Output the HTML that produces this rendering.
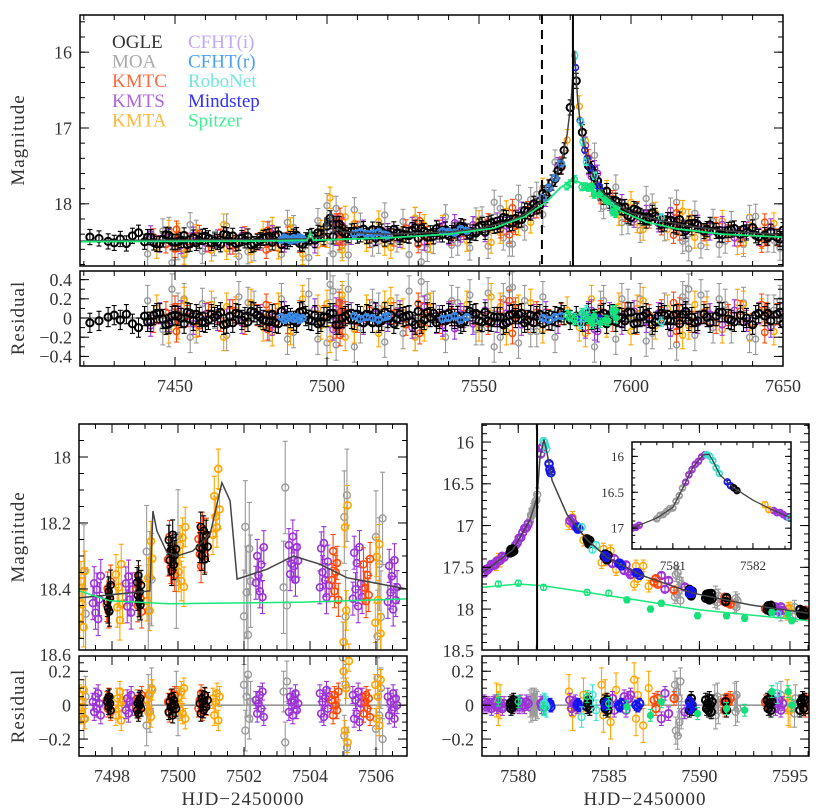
<!DOCTYPE html>
<html><head><meta charset="utf-8">
<style>
html,body{margin:0;padding:0;background:#fff;}
svg{display:block;font-family:"Liberation Serif",serif;}
</style></head>
<body>
<svg id="fig" width="821" height="812" viewBox="0 0 821 812" xmlns="http://www.w3.org/2000/svg">
<defs>
<clipPath id="cA"><rect x="80" y="15" width="703" height="251"/></clipPath>
<clipPath id="cAr"><rect x="80" y="271" width="703" height="95"/></clipPath>
<clipPath id="cB"><rect x="79" y="424" width="328" height="226"/></clipPath>
<clipPath id="cBr"><rect x="79" y="656" width="328" height="100"/></clipPath>
<clipPath id="cC"><rect x="482" y="424" width="327" height="226"/></clipPath>
<clipPath id="cCr"><rect x="482" y="656" width="327" height="100"/></clipPath>
<clipPath id="cI"><rect x="632" y="442" width="159" height="107"/></clipPath>
</defs>
</svg>
<script>
// ---------- DATA ----------
const modelT = [7418,7440,7480,7494,7499.1,7499.3,7499.6,7500.3,7501.3,7501.7,7502,7503.5,7505,7520,7540,7550,7560,7566,7570,7574,7577,7579,7580.3,7580.9,7581.4,7581.9,7582.5,7583.5,7585,7587.5,7590,7595,7600,7610,7620,7635,7655];
const modelM = [18.49,18.48,18.47,18.46,18.43,18.18,18.29,18.28,18.08,18.2,18.38,18.32,18.37,18.40,18.37,18.33,18.23,18.12,17.98,17.75,17.45,17.08,16.65,16.3,15.98,16.3,16.65,16.98,17.33,17.62,17.82,18.0,18.12,18.22,18.3,18.37,18.42];
const spzT = [7418,7480,7493.5,7494.5,7495.5,7520,7540,7555,7565,7572,7577,7581,7584,7588,7592,7597,7605,7615,7630,7655];
const spzM = [18.5,18.49,18.48,18.38,18.48,18.45,18.4,18.32,18.17,17.98,17.78,17.69,17.73,17.86,17.98,18.1,18.24,18.33,18.4,18.45];
const lzT = [7497.0,7499.15,7499.24,7499.36,7499.67,7499.97,7500.45,7500.97,7501.33,7501.58,7501.79,7502.7,7503.5,7504.3,7505.12,7506.94];
const lzM = [18.427,18.406,18.164,18.224,18.29,18.30,18.285,18.235,18.078,18.133,18.37,18.34,18.30,18.325,18.366,18.40];
const lzGT = [7497.0,7497.94,7499.7,7503.7,7506.94];
const lzGM = [18.406,18.436,18.445,18.44,18.43];
const rzT = [7578.0,7579.71,7580.65,7581.04,7581.2,7581.42,7581.59,7581.87,7582.7,7583.8,7584.9,7586.73,7589.66,7592.8,7596.05];
const rzM = [17.57,17.29,16.93,16.66,16.18,15.97,16.13,16.46,16.87,17.17,17.38,17.59,17.81,17.95,18.05];
const rzGT = [7578.0,7580.0,7581.4,7583.8,7586.5,7590.0,7596.05];
const rzGM = [17.74,17.70,17.72,17.80,17.89,18.01,18.14];
const insT = [7580.49,7580.80,7581.0,7581.13,7581.25,7581.38,7581.45,7581.5,7581.59,7581.75,7582.0,7582.25,7582.48];
const insM = [17.0,16.86,16.71,16.43,16.15,15.98,15.97,16.06,16.26,16.43,16.61,16.75,16.86];

// Top panel data
const ogleT = [7422,7425,7428,7430,7432,7434,7436,7438,7440,7442,7444,7446,7448,7450,7452,7454,7456,7458,7460,7462,7464,7466,7468,7470,7472,7474,7476,7478,7480,7482,7484,7486,7488,7490,7492,7494,7496,7498,7500,7502,7504,7506,7508,7510,7512,7514,7516,7518,7520,7522,7524,7526,7528,7530,7532,7534,7536,7538,7540,7542,7544,7546,7548,7550,7552,7554,7556,7558,7560,7562,7564,7566,7568,7570,7572,7574,7576,7578,7580,7582,7584,7586,7588,7590,7592,7594,7596,7598,7600,7602,7604,7606,7608,7610,7612,7614,7616,7618,7620,7622,7624,7626,7628,7630,7632,7634,7636,7638,7640,7642,7644,7646,7648,7650,7652,7654,7441,7445,7449,7453,7457,7461,7465,7469,7473,7477,7481,7485,7489,7493,7497,7501,7505,7509,7513,7517,7521,7525,7529,7533,7537,7541,7545,7549,7553,7557,7561,7565,7569,7573,7577,7589,7593,7597,7601,7605,7609,7613,7617,7621,7625,7629,7633,7637,7641,7645,7649,7653,7443,7447,7451,7455,7459,7463,7467,7471,7475,7479,7483,7487,7491,7495,7499,7503,7507,7511,7515,7519,7523,7527,7531,7535,7539,7543,7547,7551,7555,7559,7563,7567,7571,7575,7587,7591,7595,7599,7603,7607,7611,7615,7619,7623,7627,7631,7635,7639,7643,7647,7651];
const ogleR = [-0.05,-0.03,0.01,0.03,-0.02,0.04,-0.06,-0.10,0.02,-0.04,0.05,-0.01,-0.06,0.03,0.00,0.06,-0.03,0.01,-0.05,0.04,0.03,-0.07,0.02,0.05,-0.02,-0.04,0.06,0.01,-0.03,0.04,-0.06,0.02,0.00,-0.05,0.07,-0.02,0.03,-0.04,0.01,0.05,-0.07,0.02,-0.01,0.04,-0.05,0.03,0.06,-0.03,0.00,-0.06,0.04,0.02,-0.04,0.07,-0.02,0.01,-0.05,0.03,0.05,-0.01,-0.06,0.02,0.04,-0.03,0.06,-0.04,0.01,-0.07,0.03,0.00,0.05,-0.02,-0.05,0.04,0.02,-0.03,0.01,0.03,-0.02,0.02,-0.04,0.05,-0.01,0.03,-0.06,0.04,0.01,-0.03,0.06,-0.05,0.02,0.00,-0.04,0.05,-0.02,0.03,-0.06,0.07,0.01,-0.03,0.04,-0.05,0.02,0.06,-0.01,-0.04,0.03,0.00,-0.07,0.05,0.02,-0.03,0.04,-0.06,0.01,0.03,-0.04,0.05,0.02,-0.06,0.04,-0.02,0.06,-0.05,0.01,0.03,-0.04,0.07,-0.03,0.02,-0.06,0.05,0.00,-0.02,0.04,-0.05,0.03,0.01,-0.07,0.06,-0.01,0.02,-0.04,0.05,-0.03,0.01,0.04,-0.05,0.02,-0.02,0.06,-0.04,0.03,0.00,-0.06,0.05,0.02,-0.03,0.04,-0.05,0.01,0.06,-0.02,-0.04,0.03,0.05,0.06,-0.05,0.03,-0.07,0.02,0.05,-0.04,0.01,-0.06,0.04,0.07,-0.02,-0.05,0.03,0.06,-0.03,0.01,-0.07,0.04,0.02,-0.05,0.06,-0.01,0.03,-0.06,0.05,-0.03,0.02,0.07,-0.04,0.01,-0.05,0.04,0.03,-0.06,0.02,-0.02,0.05,-0.04,0.06,0.01,-0.07,0.03,0.04,-0.03];
const moaT = [7441,7446,7449,7451,7455,7459,7463,7467,7471,7476,7481,7485,7489,7494,7497,7501,7503,7505,7507,7511,7515,7519,7523,7527,7529,7531,7535,7539,7543,7547,7551,7555,7558,7561,7563,7565,7567,7571,7575,7588,7591,7595,7599,7603,7607,7611,7615,7617,7619,7621,7625,7629,7633,7637,7641,7645,7649,7448,7453,7457,7474,7487,7492,7500,7502,7504,7509,7517,7525,7533,7541,7549,7553,7557,7560,7569,7590,7597,7605,7613,7618,7623,7627,7631,7639,7647,7652];
const moaR = [0.18,-0.12,0.30,0.10,-0.20,0.15,0.05,-0.18,0.22,0.12,-0.08,0.20,-0.15,0.25,-0.22,0.35,-0.28,0.18,0.30,-0.10,0.14,-0.25,0.08,0.28,-0.18,0.38,0.12,-0.20,0.16,0.24,-0.12,-0.30,0.20,0.32,-0.26,0.18,-0.14,0.22,-0.20,-0.30,0.18,-0.22,0.14,0.20,-0.16,0.10,-0.28,0.22,0.30,-0.18,0.12,0.20,-0.10,0.16,-0.22,0.08,0.18,-0.14,0.20,-0.10,0.16,-0.22,0.12,-0.26,0.28,0.14,-0.30,0.10,-0.16,0.22,0.18,-0.12,0.26,-0.20,0.30,-0.14,0.12,0.20,-0.24,-0.16,0.18,0.24,-0.10,0.14,-0.20,0.08,-0.12];
const kmtcT = [7443,7447,7450,7450.5,7451,7454,7458,7461,7465,7469,7473,7477,7480,7480.5,7481,7483,7487,7491,7499,7503,7504,7504.3,7504.6,7505,7506,7510,7514,7518,7522,7526,7530,7530.5,7531,7533,7537,7541,7545,7549,7553,7557,7560,7561,7561.5,7562,7566,7569,7573,7577,7586,7590,7594,7598,7602,7606,7610,7614,7615,7615.5,7616,7620,7624,7628,7632,7636,7640,7643,7644,7644.5,7648];
const kmtcR = [-0.04,0.06,0.12,-0.14,0.04,0.02,-0.08,0.05,-0.03,0.08,-0.06,0.03,0.14,-0.12,0.05,0.04,-0.05,0.07,0.02,-0.10,0.16,-0.18,0.08,-0.06,0.06,-0.04,0.08,-0.02,0.05,-0.07,0.15,-0.16,0.05,0.03,-0.05,0.07,-0.03,0.04,-0.06,0.08,0.18,-0.16,0.06,0.10,-0.04,0.06,-0.02,0.04,-0.05,0.07,-0.03,0.05,-0.06,0.03,0.08,0.16,-0.14,0.04,0.10,-0.04,0.06,-0.05,0.03,0.07,-0.06,0.14,-0.15,0.05,0.04];
const kmtsT = [7442,7445,7448,7452,7456,7460,7464,7468,7472,7478,7482,7486,7490,7496,7502,7503,7505,7508,7512,7516,7520,7524,7528,7532,7536,7538,7540,7542,7544,7548,7552,7556,7559,7564,7568,7572,7576,7585,7587,7589,7593,7597,7601,7605,7609,7613,7618,7622,7626,7630,7634,7638,7642,7646,7650,7537,7539,7541,7543,7545,7503.5,7504.5,7588,7586];
const kmtsR = [-0.08,0.05,-0.03,0.07,-0.06,0.04,-0.02,0.08,-0.05,0.03,-0.07,0.06,-0.04,0.09,-0.12,0.10,-0.08,0.05,-0.06,0.04,-0.03,0.07,-0.10,0.12,-0.05,-0.08,0.06,-0.11,0.04,-0.06,0.08,-0.04,0.05,-0.07,0.03,0.06,-0.05,-0.10,0.08,-0.14,0.05,-0.06,0.07,-0.04,0.05,-0.08,0.06,-0.05,0.04,-0.07,0.08,-0.03,0.05,-0.09,0.04,0.02,-0.03,0.03,-0.02,0.01,-0.06,0.07,-0.12,0.06];
const kmtaT = [7444,7448,7453,7457,7462,7466,7470,7475,7479,7484,7488,7492,7498,7500,7501,7505,7509,7513,7517,7521,7525,7529,7534,7538,7546,7550,7554,7559,7563,7567,7571,7579,7583,7587,7592,7596,7600,7604,7608,7612,7617,7621,7625,7630,7635,7639,7643,7647,7451,7467,7482,7497,7506,7519,7532,7557,7585,7602,7619,7637];
const kmtaR = [0.10,-0.12,0.18,-0.06,0.14,-0.20,0.08,0.16,-0.10,0.12,-0.14,0.20,-0.08,0.15,-0.22,0.24,-0.12,0.10,-0.16,0.18,0.06,-0.20,0.12,-0.08,0.14,-0.10,0.22,-0.14,0.10,0.16,-0.12,0.08,-0.10,0.20,-0.06,0.12,-0.14,0.18,-0.08,0.10,-0.18,0.14,0.08,-0.12,0.16,-0.10,0.06,-0.14,-0.08,0.12,-0.15,0.10,-0.20,0.14,-0.10,0.12,-0.16,0.10,-0.08,0.14];
const cfhtrT = [7485,7486,7487,7488,7489,7490,7491,7492,7509,7511,7513,7515,7517,7519,7520,7538,7540,7542,7544,7546,7571,7573,7575,7577];
const cfhtrR = [0.01,-0.02,0.00,0.02,-0.01,0.01,-0.02,0.00,0.02,-0.01,0.01,0.00,-0.02,0.01,0.02,-0.01,0.00,0.02,-0.02,0.01,0.00,-0.02,0.01,0.02];
const spitzT = [7578.9,7580.0,7581.4,7583.8,7585.0,7586.0,7587.3,7587.9,7589.9,7591.5,7592.5,7594.0,7594.9,7595.1];
const spitzM = [17.70,17.69,17.74,17.80,17.81,17.89,18.00,17.93,18.08,18.08,18.11,18.04,18.06,18.14];
const spitzFilled = [0,0,0,0,0,1,1,1,1,1,1,1,1,1];
const spitzR = [0.03,0.02,-0.02,0.05,0.01,-0.01,-0.06,0.02,-0.05,-0.02,-0.03,0.08,0.08,0.00];
const mindT = [7581.75,7583.3,7584.8,7585.6,7586.6,7589.5,7589.6];
const mindR = [0.00,-0.01,0.01,0.00,0.01,-0.01,0.00];
const roboT = [7581.5,7583.5,7584.2,7585.3,7588.0,7594.2,7610.0];
const roboR = [0.00,-0.06,0.04,0.08,-0.03,0.06,-0.04];

// Zoom-left data
const lOgleT = [7497.86,7497.88,7497.9,7497.92,7497.94,7497.96,7498.76,7498.78,7498.8,7498.82,7498.84,7498.86,7498.88,7499.72,7499.75,7499.78,7499.81,7499.84,7499.87,7499.9,7499.94,7500.66,7500.69,7500.72,7500.75,7500.78,7500.81,7500.85,7500.9];
const lOgleR = [0.02,0.04,-0.01,0.05,0.01,-0.03,-0.03,0.01,-0.05,0.03,0.00,0.04,-0.02,-0.04,0.02,-0.01,0.05,-0.06,0.03,0.00,-0.02,0.01,-0.05,0.04,0.02,-0.03,0.06,-0.01,0.03];
const lKmtcT = [7497.84,7497.87,7497.9,7497.93,7497.96,7498.74,7498.78,7498.82,7498.86,7498.9,7499.7,7499.74,7499.78,7499.82,7499.86,7499.9,7500.62,7500.66,7500.7,7500.74,7500.78,7500.82,7500.86,7504.66,7504.7,7504.74,7504.78,7504.82,7504.86,7505.62,7505.66,7505.7,7505.74,7505.78,7505.82];
const lKmtcR = [0.03,-0.02,0.05,0.01,-0.04,-0.01,0.04,-0.03,0.02,0.06,0.02,-0.05,0.04,0.00,-0.02,0.06,-0.02,0.03,0.07,-0.04,0.01,0.05,-0.01,0.03,-0.06,0.06,0.00,-0.03,0.08,-0.05,0.02,0.06,-0.02,0.04,-0.07];
const lKmtsT = [7497.42,7497.46,7497.5,7497.54,7497.58,7497.62,7497.66,7498.42,7498.46,7498.5,7498.54,7498.58,7498.62,7502.36,7502.4,7502.44,7502.48,7502.52,7502.56,7502.6,7503.36,7503.4,7503.44,7503.48,7503.52,7503.56,7503.6,7503.64,7504.3,7504.34,7504.38,7504.42,7504.46,7504.5,7504.54,7504.58,7505.3,7505.34,7505.38,7505.42,7505.46,7505.5,7505.54,7505.58,7506.36,7506.4,7506.44,7506.48,7506.52,7506.56,7506.6,7506.64];
const lKmtsR = [0.02,-0.04,0.05,-0.02,0.07,0.01,-0.06,-0.03,0.04,-0.05,0.02,0.06,-0.01,0.03,-0.05,0.01,0.06,-0.02,0.08,-0.07,-0.04,0.05,0.02,-0.06,0.03,0.07,-0.03,0.01,0.07,-0.05,0.02,-0.07,0.04,0.09,-0.02,0.05,0.06,-0.08,0.03,-0.05,0.08,-0.10,0.01,0.05,0.05,-0.06,0.02,-0.03,0.07,-0.08,0.04,0.00];
const lKmtaT = [7497.02,7497.06,7497.1,7497.14,7497.18,7498.12,7498.16,7498.2,7498.24,7498.28,7498.32,7499.06,7499.1,7499.14,7499.18,7499.22,7500.02,7500.06,7500.1,7500.14,7500.18,7500.22,7501.06,7501.1,7501.14,7501.18,7501.22,7501.26,7505.02,7505.06,7505.1,7505.14,7505.18,7505.98,7506.02,7506.06,7506.1,7506.14];
const lKmtaR = [0.06,-0.05,0.02,0.09,-0.08,-0.06,0.04,-0.02,0.08,-0.09,0.03,0.03,-0.04,0.06,-0.07,0.09,0.05,-0.03,0.08,-0.05,0.10,-0.08,0.04,-0.06,0.02,0.07,-0.09,0.05,0.20,-0.15,0.10,-0.22,0.26,0.12,-0.08,0.05,-0.12,0.15];
const lMoaT = [7497.15,7497.2,7499.05,7499.1,7499.15,7499.2,7499.95,7500.0,7502.0,7502.04,7502.08,7502.12,7502.16,7502.2,7503.2,7503.25,7503.3,7505.0,7505.04,7505.08,7505.12,7506.0,7506.05,7506.1,7506.15,7506.2];
const lMoaR = [-0.08,0.05,-0.12,0.06,-0.04,0.10,0.08,-0.06,0.12,-0.15,0.05,0.18,-0.08,0.02,0.08,-0.22,0.14,0.28,-0.18,0.12,-0.25,-0.14,0.16,-0.06,0.10,-0.20];

// Zoom-right data
const rOgleT = [7579.55,7579.6,7579.65,7579.7,7579.75,7583.8,7583.85,7583.9,7583.95,7584.75,7584.8,7584.85,7584.9,7584.95,7589.45,7589.5,7589.55,7589.6,7590.35,7590.4,7590.45,7590.5,7590.55,7590.6,7590.65,7590.7,7591.45,7591.5,7593.75,7593.8,7593.85,7593.9,7593.95,7594.0,7595.55,7595.6,7595.65,7595.7,7595.75,7595.8];
const rOgleR = [0.01,-0.02,0.02,-0.01,0.03,-0.01,0.01,0.03,-0.02,0.02,-0.02,0.01,0.03,-0.03,-0.03,0.02,0.04,-0.02,0.03,-0.02,0.01,-0.03,0.04,0.00,-0.04,0.02,0.02,-0.03,0.03,-0.02,0.01,0.04,-0.03,0.02,-0.03,0.02,0.01,0.04,-0.02,0.03];
const rKmtsT = [7578.02,7578.12,7578.22,7578.32,7578.42,7578.52,7578.62,7578.72,7578.82,7578.92,7579.02,7579.12,7579.22,7579.85,7579.95,7580.05,7580.15,7580.25,7580.35,7580.45,7580.55,7581.25,7581.3,7581.35,7582.85,7582.95,7583.05,7583.15,7583.25,7585.2,7585.3,7585.85,7585.95,7586.1,7586.2,7587.9,7588.1,7588.3,7589.2,7594.1,7594.2,7594.3,7594.4,7594.5,7594.6];
const rKmtsR = [0.00,0.02,-0.01,0.01,0.00,-0.02,0.01,0.02,-0.01,0.00,0.01,-0.02,0.01,0.00,0.01,-0.01,0.02,0.00,-0.01,0.02,0.01,0.01,-0.01,0.02,0.03,-0.02,0.01,0.02,-0.01,0.04,-0.03,0.05,-0.03,0.04,0.06,-0.08,0.07,-0.05,-0.04,0.03,-0.02,0.01,0.03,-0.03,0.01];
const rKmtaT = [7578.8,7578.9,7579.0,7582.8,7583.0,7583.6,7584.6,7584.7,7584.8,7585.1,7585.4,7586.4,7586.5,7586.6,7586.9,7587.2,7594.85,7594.9,7595.0];
const rKmtaR = [0.03,-0.02,0.02,0.08,-0.05,0.06,0.12,-0.06,0.05,-0.10,0.09,0.15,-0.08,0.06,-0.12,0.10,0.05,-0.02,-0.03];
const rKmtcT = [7587.5,7587.6,7587.7,7588.6,7591.35,7591.4,7591.5,7591.6,7591.7,7593.65,7593.7,7595.85,7595.9,7596.0];
const rKmtcR = [0.03,-0.02,0.04,0.04,0.02,-0.03,0.03,0.02,0.04,0.02,0.01,-0.03,0.03,0.02];
const rMoaT = [7580.65,7580.7,7580.75,7580.8,7580.85,7580.9,7580.95,7581.0,7581.05,7588.65,7588.7,7588.75,7588.8,7588.85,7588.9,7588.95,7589.0,7590.85,7590.9,7591.0,7591.05,7591.95,7592.0,7592.05,7592.1,7594.5,7595.25,7595.3];
const rMoaR = [0.01,-0.02,0.02,-0.01,0.01,0.02,-0.01,0.01,0.00,0.12,-0.15,0.08,-0.18,0.04,-0.10,0.14,-0.06,0.04,-0.06,0.05,-0.03,0.05,-0.04,0.06,-0.02,0.06,-0.05,0.04];
const rMindT = [7581.7,7581.75,7581.8,7583.25,7583.3,7583.35,7584.8,7584.85,7585.55,7585.6,7585.7,7586.5,7586.6,7586.7,7589.45,7589.5,7589.6];
const rMindR = [0.00,0.01,-0.01,0.00,0.01,-0.01,0.00,0.01,0.00,-0.01,0.01,0.00,-0.01,0.01,0.02,-0.02,0.00];
const rRoboT = [7581.4,7581.45,7581.5,7581.55,7583.5,7584.1,7584.3,7594.3];
const rRoboR = [0.00,0.01,0.00,-0.01,-0.07,0.06,-0.03,0.07];

// Inset data
const iMoaT = [7580.8,7580.84,7580.88,7580.92,7580.96,7581.0,7581.04,7581.08,7581.12];
const iMoaR = [0.01,-0.01,0.01,0.00,-0.01,0.01,0.00,0.01,-0.01];
const iKmtsT = [7580.5,7580.54,7580.58,7581.16,7581.2,7581.24,7581.28,7581.32,7581.36,7581.4,7582.26,7582.3,7582.34,7582.38,7582.42];
const iKmtsR = [0.00,0.01,0.00,0.00,-0.01,0.01,0.00,0.01,0.00,0.00,0.00,0.01,-0.01,0.00,0.01];
const iRoboT = [7581.42,7581.46,7581.5,7581.54,7581.58,7582.46];
const iRoboR = [0.00,0.01,0.00,0.01,0.00,0.01];
const iMindT = [7581.68,7581.72];
const iMindR = [0.00,0.01];
const iOgleT = [7581.76,7581.8];
const iOgleR = [0.00,0.01];
const iKmtaT = [7582.15,7582.2];
const iKmtaR = [-0.02,0.02];

// Tick labels
const topXTicks = [7450,7500,7550,7600,7650];
const topYTicks = [16,17,18];
const resTopTicks = [0.4,0.2,0,-0.2,-0.4];
const lXTicks = [7498,7500,7502,7504,7506];
const lYTicks = [18,18.2,18.4,18.6];
const rXTicks = [7580,7585,7590,7595];
const rYTicks = [16,16.5,17,17.5,18,18.5];
const resBotTicks = [0.2,0,-0.2];
const insXTicks = [7581,7582];
const insYTicks = [16,16.5,17];
const legendNames = ["OGLE","MOA","KMTC","KMTS","KMTA","CFHT(i)","CFHT(r)","RoboNet","Mindstep","Spitzer"];

// ---------- RENDERING ----------
const NS = "http://www.w3.org/2000/svg";
const svg = document.getElementById('fig');
const COL = {ogle:"#000000", moa:"#9a9a9a", kmtc:"#ff4a0a", kmts:"#9b33d6", kmta:"#ffa500", cfhti:"#b9a0f2", cfhtr:"#3a8ae8", robo:"#3ee0d0", mind:"#1414f0", spitz:"#14e07a"};
const LEGCOL = ["#333333","#aaaaaa","#ff6a40","#b066dd","#ffb740","#c0a8f5","#4aa0ff","#70e8dc","#3030ff","#40ee90"];

function mk(tag, parent, attrs){
  const el = document.createElementNS(NS, tag);
  for (const k in attrs) el.setAttribute(k, attrs[k]);
  parent.appendChild(el);
  return el;
}
function panel(x0,x1,y0,y1,t0,t1,v0,v1){
  return {x0,x1,y0,y1,X:t=>x0+(t-t0)/(t1-t0)*(x1-x0),Y:v=>y0+(v-v0)/(v1-v0)*(y1-y0),t0,t1,v0,v1};
}
function interp(T,M,t){
  if (t<=T[0]) return M[0];
  for (let i=1;i<T.length;i++){ if (t<=T[i]) { const f=(t-T[i-1])/(T[i]-T[i-1]); return M[i-1]+f*(M[i]-M[i-1]); } }
  return M[M.length-1];
}
const PA = panel(80,783,15,266,7418.75,7650,15.51,18.82);
const PAr = panel(80,783,271,366,7418.75,7650,0.49,-0.5);
const PB = panel(79,407,424,650,7497,7506.94,17.90,18.585);
const PBr = panel(79,407,656,756,7497,7506.94,0.29,-0.30);
const PC = panel(482,809,424,650,7578,7596.05,15.784,18.49);
const PCr = panel(482,809,656,756,7578,7596.05,0.29,-0.30);
const PI = panel(632,791,442,549,7580.49,7582.475,15.8,17.29);

function group(name, clip){
  const g = mk('g', svg, {});
  
  
  if (clip) g.setAttribute('clip-path', 'url(#'+clip+')');
  return g;
}
function line(g,P,T,M,col,w,name){
  let d='';
  T.forEach((t,i)=>{ d += (i?'L':'M')+P.X(t).toFixed(1)+' '+P.Y(M[i]).toFixed(1); });
  const p = mk('path', g, {d:d, fill:'none', stroke:col, 'stroke-width':w});
  
  
}
function pts(g,P,T,R,base,err,col,r,name,filledArr,sw){
  T.forEach((t,i)=>{
    const v = base ? interp(base[0],base[1],t)+R[i] : R[i];
    const x = P.X(t), y = P.Y(v);
    const ya = P.Y(v-err), yb = P.Y(v+err);
    const pg = mk('g', g, {stroke:col, 'stroke-width':1.1, fill:'none'});
    
    
    mk('line', pg, {x1:x, x2:x, y1:ya, y2:yb});
    mk('line', pg, {x1:x-2.5, x2:x+2.5, y1:ya, y2:ya});
    mk('line', pg, {x1:x-2.5, x2:x+2.5, y1:yb, y2:yb});
    const filled = filledArr ? filledArr[i] : 0;
    mk('circle', pg, {cx:x, cy:y, r:r, fill: filled ? col : 'none', 'stroke-width':sw||1.4});
  });
}
function vline(g,P,t,dash,name){
  const l = mk('line', g, {x1:P.X(t), x2:P.X(t), y1:P.y0, y2:P.y1, stroke:'#000', 'stroke-width':2});
  if (dash) l.setAttribute('stroke-dasharray', '9,6');
  
  
}
function hzero(g,P){
  const l = mk('line', g, {x1:P.x0, x2:P.x1, y1:P.Y(0), y2:P.Y(0), stroke:'#777', 'stroke-width':1.2});
  
  
}
function frame(P, name, xMaj, xMin, yMaj, yMin, xLab, yLab, fs, showX, tl){
  const g = group(name, null);
  mk('rect', g, {x:P.x0, y:P.y0, width:P.x1-P.x0, height:P.y1-P.y0, fill:'none', stroke:'#000', 'stroke-width':1.5});
  const L = tl||9, l = (tl||9)*0.55;
  const ticks = (step, len, isX)=>{
    const lo = isX ? Math.min(P.t0,P.t1) : Math.min(P.v0,P.v1);
    const hi = isX ? Math.max(P.t0,P.t1) : Math.max(P.v0,P.v1);
    for (let v=Math.ceil(lo/step-1e-6)*step; v<=hi+1e-9; v+=step){
      if (isX){ const x=P.X(v); mk('line',g,{x1:x,x2:x,y1:P.y1,y2:P.y1-len,stroke:'#000','stroke-width':1}); mk('line',g,{x1:x,x2:x,y1:P.y0,y2:P.y0+len,stroke:'#000','stroke-width':1}); }
      else { const y=P.Y(v); mk('line',g,{x1:P.x0,x2:P.x0+len,y1:y,y2:y,stroke:'#000','stroke-width':1}); mk('line',g,{x1:P.x1,x2:P.x1-len,y1:y,y2:y,stroke:'#000','stroke-width':1}); }
    }
  };
  ticks(xMin,l,true); ticks(xMaj,L,true); ticks(yMin,l,false); ticks(yMaj,L,false);
  if (showX) xLab.forEach(v=>{
    const t = mk('text', g, {x:Math.min(P.X(v), P.x1+2), y:P.y1+fs+8, 'text-anchor':'middle', 'font-size':fs, fill:'#333'});
    t.textContent = String(v);
    
    
  });
  yLab.forEach(v=>{
    const t = mk('text', g, {x:P.x0-8, y:P.Y(v)+fs*0.35, 'text-anchor':'end', 'font-size':fs, fill:'#333'});
    t.textContent = (v<0 ? '\u2212'+String(-v) : String(v));
    
    
  });
}
function label(txt,x,y,rot,name,fs){
  const t = mk('text', svg, {x:x, y:y, 'text-anchor':'middle', 'font-size':fs||19, fill:'#333', 'letter-spacing':'1'});
  if (rot) t.setAttribute('transform', 'rotate(-90 '+x+' '+y+')');
  t.textContent = txt;
  
  
}

// ---- Top magnitude panel
const gA = group('top-magnitude-plot', 'cA');
const MOD = [modelT, modelM], SPZ = [spzT, spzM];
pts(gA,PA,moaT,moaR,MOD,0.16,COL.moa,3,'moa-point');
pts(gA,PA,kmtaT,kmtaR,MOD,0.14,COL.kmta,3,'kmta-point');
pts(gA,PA,kmtsT,kmtsR,MOD,0.11,COL.kmts,3.2,'kmts-point');
pts(gA,PA,kmtcT,kmtcR,MOD,0.11,COL.kmtc,3.2,'kmtc-point');
pts(gA,PA,ogleT,ogleR,MOD,0.1,COL.ogle,3.6,'ogle-point',null,2);
pts(gA,PA,cfhtrT,cfhtrR,MOD,0.02,COL.cfhtr,3.2,'cfht-r-point',null,2);
pts(gA,PA,mindT,mindR,MOD,0.03,COL.mind,3,'mindstep-point');
pts(gA,PA,roboT,roboR,MOD,0.05,COL.robo,3,'robonet-point');
pts(gA,PA,spitzT,spitzR,SPZ,0.05,COL.spitz,2.8,'spitzer-point',spitzFilled);
line(gA,PA,modelT,modelM,'#444',1.5,'ground-model-curve');
line(gA,PA,spzT,spzM,'#18e87a',1.8,'spitzer-model-curve');
vline(gA,PA,7570.7,true,'dashed-time-marker');
vline(gA,PA,7580.9,false,'peak-time-marker');
frame(PA,'top-magnitude-axes',50,10,1,0.2,topXTicks,topYTicks,18,false);

// ---- Top residual panel
const gAr = group('top-residual-plot', 'cAr');
hzero(gAr,PAr);
pts(gAr,PAr,moaT,moaR,null,0.16,COL.moa,3,'moa-residual');
pts(gAr,PAr,kmtaT,kmtaR,null,0.14,COL.kmta,3,'kmta-residual');
pts(gAr,PAr,kmtsT,kmtsR,null,0.11,COL.kmts,3.2,'kmts-residual');
pts(gAr,PAr,kmtcT,kmtcR,null,0.11,COL.kmtc,3.2,'kmtc-residual');
pts(gAr,PAr,ogleT,ogleR,null,0.1,COL.ogle,3.6,'ogle-residual',null,2);
pts(gAr,PAr,cfhtrT,cfhtrR,null,0.02,COL.cfhtr,3.2,'cfht-r-residual',null,2);
pts(gAr,PAr,mindT,mindR,null,0.03,COL.mind,3,'mindstep-residual');
pts(gAr,PAr,roboT,roboR,null,0.05,COL.robo,3,'robonet-residual');
pts(gAr,PAr,spitzT,spitzR,null,0.05,COL.spitz,2.8,'spitzer-residual',spitzFilled);
frame(PAr,'top-residual-axes',50,10,0.2,0.1,topXTicks,resTopTicks,18,true);

// ---- Bottom-left magnitude
const gB = group('zoom-left-magnitude-plot', 'cB');
const LM = [lzT, lzM];
pts(gB,PB,lMoaT,lMoaR,LM,0.14,COL.moa,3.5,'moa-point');
pts(gB,PB,lKmtaT,lKmtaR,LM,0.06,COL.kmta,3.5,'kmta-point',null,1.6);
pts(gB,PB,lKmtsT,lKmtsR,LM,0.05,COL.kmts,3.5,'kmts-point',null,1.6);
pts(gB,PB,lKmtcT,lKmtcR,LM,0.05,COL.kmtc,3.5,'kmtc-point',null,1.6);
pts(gB,PB,lOgleT,lOgleR,LM,0.045,COL.ogle,3.5,'ogle-point',null,1.6);
line(gB,PB,lzT,lzM,'#444',1.5,'ground-model-curve');
line(gB,PB,lzGT,lzGM,'#18e87a',1.5,'spitzer-model-curve');
frame(PB,'zoom-left-magnitude-axes',2,0.5,0.2,0.05,lXTicks,lYTicks,18,false);

const gBr = group('zoom-left-residual-plot', 'cBr');
hzero(gBr,PBr);
pts(gBr,PBr,lMoaT,lMoaR,null,0.12,COL.moa,3.5,'moa-residual');
pts(gBr,PBr,lKmtaT,lKmtaR,null,0.06,COL.kmta,3.5,'kmta-residual',null,1.6);
pts(gBr,PBr,lKmtsT,lKmtsR,null,0.05,COL.kmts,3.5,'kmts-residual',null,1.6);
pts(gBr,PBr,lKmtcT,lKmtcR,null,0.05,COL.kmtc,3.5,'kmtc-residual',null,1.6);
pts(gBr,PBr,lOgleT,lOgleR,null,0.045,COL.ogle,3.5,'ogle-residual',null,1.6);
frame(PBr,'zoom-left-residual-axes',2,0.5,0.2,0.05,lXTicks,resBotTicks,18,true);

// ---- Bottom-right magnitude
const gC = group('zoom-right-magnitude-plot', 'cC');
const RM = [rzT, rzM];
pts(gC,PC,rMoaT,rMoaR,RM,0.08,COL.moa,3.5,'moa-point');
pts(gC,PC,rKmtaT,rKmtaR,RM,0.07,COL.kmta,3.5,'kmta-point');
pts(gC,PC,rKmtsT,rKmtsR,RM,0.03,COL.kmts,3.8,'kmts-point',null,1.8);
pts(gC,PC,rKmtcT,rKmtcR,RM,0.03,COL.kmtc,3.8,'kmtc-point',null,1.8);
pts(gC,PC,rOgleT,rOgleR,RM,0.03,COL.ogle,3.8,'ogle-point',null,2);
pts(gC,PC,rMindT,rMindR,RM,0.02,COL.mind,3.8,'mindstep-point',null,2);
pts(gC,PC,rRoboT,rRoboR,RM,0.04,COL.robo,3.5,'robonet-point');
pts(gC,PC,spitzT,spitzM,null,0.035,COL.spitz,3,'spitzer-point',spitzFilled);
line(gC,PC,rzT,rzM,'#444',1.5,'ground-model-curve');
line(gC,PC,rzGT,rzGM,'#18e87a',1.5,'spitzer-model-curve');
vline(gC,PC,7581.04,false,'peak-time-marker');
frame(PC,'zoom-right-magnitude-axes',5,1,0.5,0.1,rXTicks,rYTicks,18,false);

const gCr = group('zoom-right-residual-plot', 'cCr');
hzero(gCr,PCr);
pts(gCr,PCr,rMoaT,rMoaR,null,0.08,COL.moa,3.5,'moa-residual');
pts(gCr,PCr,rKmtaT,rKmtaR,null,0.1,COL.kmta,3.5,'kmta-residual');
pts(gCr,PCr,rKmtsT,rKmtsR,null,0.04,COL.kmts,3.8,'kmts-residual',null,1.8);
pts(gCr,PCr,rKmtcT,rKmtcR,null,0.04,COL.kmtc,3.8,'kmtc-residual',null,1.8);
pts(gCr,PCr,rOgleT,rOgleR,null,0.04,COL.ogle,3.8,'ogle-residual',null,2);
pts(gCr,PCr,rMindT,rMindR,null,0.03,COL.mind,3.8,'mindstep-residual',null,2);
pts(gCr,PCr,rRoboT,rRoboR,null,0.06,COL.robo,3.5,'robonet-residual');
pts(gCr,PCr,spitzT,spitzR,null,0.035,COL.spitz,3,'spitzer-residual',spitzFilled);
frame(PCr,'zoom-right-residual-axes',5,1,0.2,0.05,rXTicks,resBotTicks,18,true);

// ---- Inset
const bgI = mk('rect', svg, {x:PI.x0, y:PI.y0, width:PI.x1-PI.x0, height:PI.y1-PI.y0, fill:'#fff'});


const gI = group('inset-peak-plot', 'cI');
const IM = [insT, insM];
pts(gI,PI,iMoaT,iMoaR,IM,0.02,COL.moa,3,'moa-point',null,1.6);
pts(gI,PI,iKmtsT,iKmtsR,IM,0.02,COL.kmts,3,'kmts-point',null,1.6);
pts(gI,PI,iRoboT,iRoboR,IM,0.02,COL.robo,3,'robonet-point',null,1.6);
pts(gI,PI,iMindT,iMindR,IM,0.02,COL.mind,3,'mindstep-point',null,1.6);
pts(gI,PI,iOgleT,iOgleR,IM,0.02,COL.ogle,3,'ogle-point',null,1.6);
pts(gI,PI,iKmtaT,iKmtaR,IM,0.04,COL.kmta,3,'kmta-point');
line(gI,PI,insT,insM,'#444',1.3,'ground-model-curve');
frame(PI,'inset-axes',1,0.2,0.5,0.1,insXTicks,insYTicks,13,true,6);

// ---- Legend
legendNames.forEach((n,i)=>{
  const col = i<5 ? 0 : 1, row = i%5;
  const t = mk('text', svg, {x: col ? 188 : 112, y: 48+row*19.6, 'font-size':19, fill:LEGCOL[i]});
  t.textContent = n;
  
  
});

// ---- Axis titles
label('Magnitude',24,140,true,'top-y-axis-title');
label('Residual',24,318,true,'top-residual-axis-title');
label('Magnitude',24,537,true,'bottom-y-axis-title');
label('Residual',24,706,true,'bottom-residual-axis-title');
label('HJD\u22122450000',243,805,false,'left-x-axis-title');
label('HJD\u22122450000',645,805,false,'right-x-axis-title');
</script>
</body></html>
